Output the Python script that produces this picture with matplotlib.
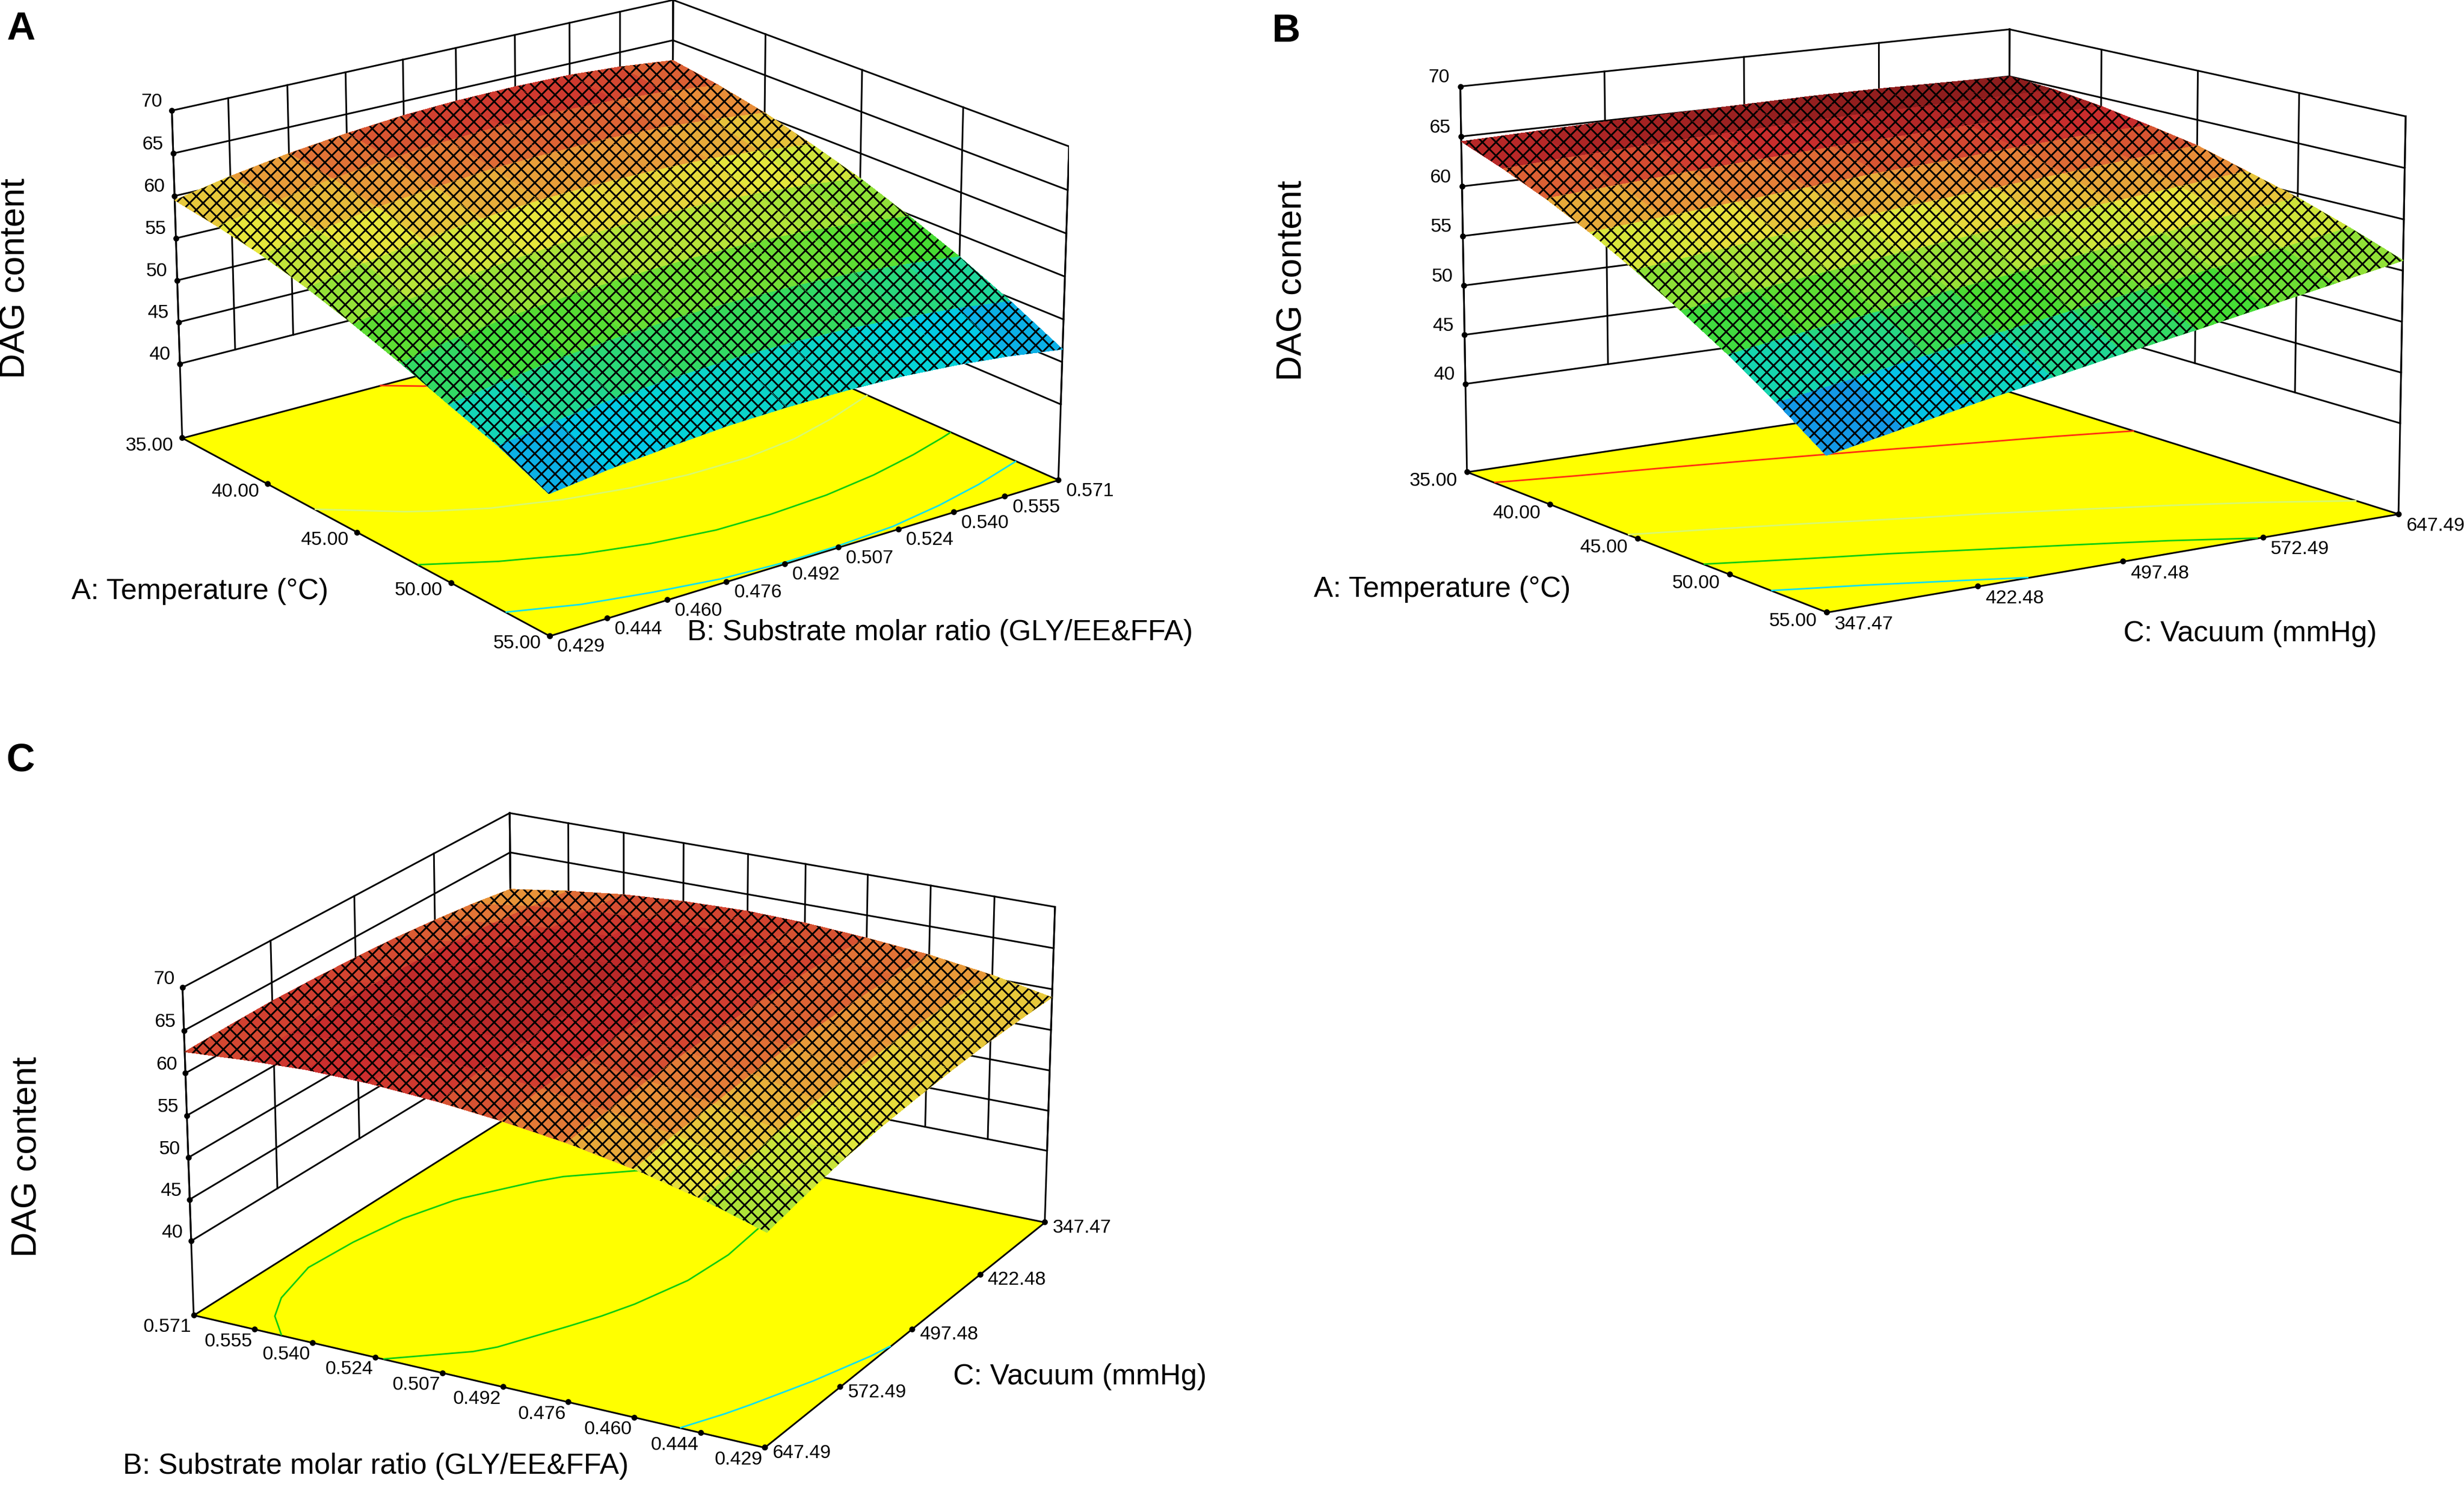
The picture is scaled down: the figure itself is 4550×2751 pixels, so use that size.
import numpy as np
import matplotlib
matplotlib.use("Agg")
import matplotlib.pyplot as plt
from matplotlib.colors import LinearSegmentedColormap, Normalize
from mpl_toolkits.mplot3d import proj3d
from mpl_toolkits.mplot3d.art3d import Poly3DCollection

plt.rcParams['font.family'] = ['Liberation Sans', 'DejaVu Sans']
plt.rcParams['hatch.linewidth'] = 0.75

W, H, DPI = 4550, 2751, 300

# ---------------- data ----------------
temp_ticks = [35.0, 40.0, 45.0, 50.0, 55.0]
temp_labels = ["35.00", "40.00", "45.00", "50.00", "55.00"]
ratio_ticks = [0.429, 0.444, 0.460, 0.476, 0.492, 0.507, 0.524, 0.540, 0.555, 0.571]
ratio_labels = ["0.429", "0.444", "0.460", "0.476", "0.492", "0.507", "0.524", "0.540", "0.555", "0.571"]
vac_ticks = [347.47, 422.48, 497.48, 572.49, 647.49]
vac_labels = ["347.47", "422.48", "497.48", "572.49", "647.49"]
dag_ticks = [40, 45, 50, 55, 60, 65, 70]
dag_labels = ["40", "45", "50", "55", "60", "65", "70"]
floor_z = 31.0

temp_grid = [35.0, 37.5, 40.0, 42.5, 45.0, 47.5, 50.0, 52.5, 55.0]
ratio_grid = [0.429, 0.444, 0.460, 0.476, 0.492, 0.507, 0.524, 0.540, 0.555, 0.571]
vac_grid = [347.47, 384.97, 422.48, 459.98, 497.48, 534.99, 572.49, 609.99, 647.49]

# Panel A: DAG content, rows = temperature, cols = substrate molar ratio
dag_A = [
    [59.5, 60.8, 61.9, 62.7, 63.3, 63.6, 63.7, 63.6, 63.2, 62.5],
    [58.8, 60.1, 61.2, 62.0, 62.5, 62.8, 62.9, 62.7, 62.3, 61.6],
    [57.9, 59.1, 60.2, 60.9, 61.5, 61.7, 61.8, 61.6, 61.1, 60.4],
    [56.6, 57.8, 58.8, 59.6, 60.1, 60.3, 60.3, 60.1, 59.6, 58.8],
    [55.0, 56.2, 57.2, 57.9, 58.4, 58.6, 58.6, 58.3, 57.8, 57.0],
    [53.2, 54.4, 55.3, 55.9, 56.3, 56.5, 56.5, 56.2, 55.6, 54.8],
    [51.2, 52.2, 53.1, 53.7, 54.1, 54.2, 54.1, 53.8, 53.2, 52.4],
    [49.3, 50.3, 51.0, 51.5, 51.8, 51.8, 51.6, 51.1, 50.5, 49.6],
    [46.8, 47.6, 48.2, 48.7, 48.9, 48.9, 48.7, 48.2, 47.5, 46.5],
]
# Panel B: rows = temperature, cols = vacuum
dag_B = [
    [64.5, 64.7, 64.9, 65.0, 65.1, 65.2, 65.2, 65.1, 65.0],
    [63.0, 63.4, 63.7, 64.0, 64.2, 64.4, 64.5, 64.6, 64.7],
    [61.3, 61.8, 62.3, 62.7, 63.1, 63.4, 63.7, 63.9, 64.1],
    [59.3, 59.9, 60.5, 61.1, 61.7, 62.1, 62.6, 63.0, 63.3],
    [57.0, 57.8, 58.6, 59.3, 60.0, 60.6, 61.2, 61.8, 62.4],
    [54.5, 55.5, 56.4, 57.3, 58.1, 58.9, 59.6, 60.3, 61.0],
    [51.8, 52.9, 53.9, 55.0, 55.9, 56.9, 57.8, 58.7, 59.6],
    [48.8, 50.0, 51.2, 52.4, 53.5, 54.6, 55.7, 56.8, 57.9],
    [45.5, 46.9, 48.3, 49.6, 50.9, 52.1, 53.4, 54.7, 56.0],
]
# Panel C: rows = substrate molar ratio, cols = vacuum
dag_C = [
    [59.0, 59.1, 59.1, 58.9, 58.6, 58.2, 57.6, 56.7, 55.6],
    [60.4, 60.6, 60.6, 60.5, 60.3, 59.9, 59.4, 58.7, 57.8],
    [61.5, 61.7, 61.9, 61.8, 61.7, 61.4, 60.9, 60.4, 59.6],
    [62.2, 62.6, 62.8, 62.8, 62.7, 62.5, 62.1, 61.6, 61.0],
    [62.7, 63.1, 63.4, 63.5, 63.5, 63.3, 63.0, 62.6, 62.0],
    [62.9, 63.3, 63.7, 63.9, 63.9, 63.8, 63.6, 63.3, 62.7],
    [62.7, 63.2, 63.7, 63.9, 64.0, 64.0, 63.9, 63.6, 63.2],
    [62.2, 62.8, 63.3, 63.7, 63.9, 63.9, 63.8, 63.6, 63.3],
    [61.4, 62.1, 62.7, 63.1, 63.4, 63.5, 63.5, 63.3, 63.0],
    [60.3, 61.1, 61.7, 62.2, 62.5, 62.7, 62.8, 62.7, 62.5],
]
levels_A = [49.0, 52.6, 56.5, 63.0]
levels_B = [49.2, 53.3, 57.5, 63.5]
levels_C = [58.36, 63.14]

# ---------------- style ----------------
cmap_values = [46.0, 49.5, 54.0, 59.0, 61.5, 63.5, 66.0]
cmap_colors = ['#285ae6', '#00d2e6', '#46dc32', '#e6e63c', '#e88838', '#cc2e2e', '#5e0f0f']
vmin, vmax = cmap_values[0], cmap_values[-1]
cmap = LinearSegmentedColormap.from_list(
    'de', [((v - vmin) / (vmax - vmin), c) for v, c in zip(cmap_values, cmap_colors)])
norm = Normalize(vmin, vmax)
contour_colors_4 = ['#10e0f0', '#10cc10', '#d8f870', '#ff3010']
contour_colors_2 = ['#10e0f0', '#10cc10']

fig = plt.figure(figsize=(W / DPI, H / DPI), dpi=DPI)
fig.patch.set_facecolor('white')

LW_BOX = 0.75
TICK_FS = 8.5
TITLE_FS = 12.8
ZTITLE_FS = 15.5

panels = [
    dict(xg=temp_grid, yg=ratio_grid, z=dag_A, xt=temp_ticks, xl=temp_labels,
         yt=ratio_ticks, yl=ratio_labels, levels=levels_A, lcolors=contour_colors_4,
         left=(35.0, 0.429), back=(35.0, 0.571), right=(55.0, 0.571), front=(55.0, 0.429),
         target=[(289, 198), (367, 805), (1012, 1180), (1922, 881), (2010, 267), (1240, 12)],
         p0=[26, -37, 0.4, 0.63, 1.06],
         zoff=(-18, -17), xoff=(-16, 14), yoff=(14, 20)),
    dict(xg=temp_grid, yg=vac_grid, z=dag_B, xt=temp_ticks, xl=temp_labels,
         yt=vac_ticks, yl=vac_labels, levels=levels_B, lcolors=contour_colors_4,
         left=(35.0, 347.47), back=(35.0, 647.49), right=(55.0, 647.49), front=(55.0, 347.47),
         target=[(2680, 155), (2730, 865), (3369, 1140), (4409, 944), (4467, 207), (3706, 68)],
         p0=[17, -33, 0.4, 0.64, 1.07],
         zoff=(-20, -17), xoff=(-18, 16), yoff=(14, 22)),
    dict(xg=ratio_grid, yg=vac_grid, z=dag_C, xt=ratio_ticks, xl=ratio_labels,
         yt=vac_ticks, yl=vac_labels, levels=levels_C, lcolors=contour_colors_2,
         left=(0.571, 647.49), back=(0.571, 347.47), right=(0.429, 347.47), front=(0.429, 647.49),
         target=[(301, 1819), (389, 2422), (1416, 2681), (1900, 2252), (1973, 1667), (946, 1515)],
         p0=[28, 118, 0.4, 0.59, 0.88],
         zoff=(-15, -16), xoff=(-4, 22), yoff=(14, 10)),
]


def configure(ax, p):
    elev, azim, invf, zasp, yasp = p
    ax.view_init(elev=elev, azim=azim)
    if invf < 0.02:
        ax.set_proj_type('ortho')
    else:
        ax.set_proj_type('persp', focal_length=1.0 / invf)
    ax.set_box_aspect((1.0, yasp, zasp))


def project(ax, pts):
    M = ax.get_proj()
    a = np.array(pts, float)
    px, py, _ = proj3d.proj_transform(a[:, 0], a[:, 1], a[:, 2], M)
    return np.column_stack([px, py])


def sim_fit(P, T):
    pm, tm = P.mean(0), T.mean(0)
    dp, dt = P - pm, T - tm
    s = (dp * dt).sum() / max((dp * dp).sum(), 1e-12)
    res = ((s * dp - dt) ** 2).sum()
    return s, pm, tm, res


def key_points(sp):
    F = floor_z
    (xl, yl), (xb, yb), (xr, yr), (xf, yf) = sp['left'], sp['back'], sp['right'], sp['front']
    return [(xl, yl, 70), (xl, yl, F), (xf, yf, F), (xr, yr, F), (xr, yr, 70), (xb, yb, 70)]


def fit_camera(ax, sp):
    pts = key_points(sp)
    T = np.array(sp['target'], float)
    T[:, 1] = -T[:, 1]
    p0 = sp['p0']
    bounds = [(5, 60), (p0[1] - 40, p0[1] + 40), (0.0, 1.0), (0.3, 1.2), (0.5, 1.6)]

    def cost(p):
        configure(ax, p)
        return sim_fit(project(ax, pts), T)[3]

    p = list(p0)
    c = cost(p)
    steps = [4.0, 4.0, 0.2, 0.08, 0.08]
    st = list(steps)
    for _ in range(200):
        improved = False
        for i in range(5):
            for d in (1, -1):
                q = list(p)
                q[i] = float(np.clip(q[i] + d * st[i], *bounds[i]))
                cq = cost(q)
                if cq < c - 1e-9:
                    p, c, improved = q, cq, True
        if not improved:
            st = [s / 2 for s in st]
            if st[0] < steps[0] / 128:
                break
    configure(ax, p)


axes = []
for sp in panels:
    ax = fig.add_axes([0.1, 0.1, 1500 / W, 1500 / H], projection='3d', computed_zorder=False)
    ax.set_axis_off()
    ax.set_facecolor('none')
    F = floor_z
    (xl, yl), (xb, yb), (xr, yr), (xf, yf) = sp['left'], sp['back'], sp['right'], sp['front']
    X, Y = np.meshgrid(sp['xg'], sp['yg'], indexing='ij')
    Z = np.array(sp['z'], float)

    # back walls with grid
    for z in dag_ticks:
        ax.plot([xl, xb], [yl, yb], [z, z], color='k', lw=LW_BOX, zorder=1)
        ax.plot([xb, xr], [yb, yr], [z, z], color='k', lw=LW_BOX, zorder=1)
    for y in sp['yt']:
        ax.plot([xl, xl], [y, y], [40, 70], color='k', lw=LW_BOX, zorder=1)
    for x in sp['xt']:
        ax.plot([x, x], [yb, yb], [40, 70], color='k', lw=LW_BOX, zorder=1)
    for (cx, cy) in (sp['left'], sp['back'], sp['right']):
        ax.plot([cx, cx], [cy, cy], [F, 70], color='k', lw=LW_BOX, zorder=1)

    # yellow floor with contours
    floor = Poly3DCollection([[(xl, yl, F), (xf, yf, F), (xr, yr, F), (xb, yb, F)]],
                             facecolor='#ffff00', edgecolor='k', linewidths=LW_BOX, zorder=2)
    ax.add_collection3d(floor)
    ax.contour(X, Y, Z, levels=sp['levels'], zdir='z', offset=F, colors=sp['lcolors'],
               linewidths=0.7, zorder=3)

    # response surface (mesh texture via hatch)
    surf = ax.plot_surface(X, Y, Z, cmap=cmap, norm=norm, linewidth=0, edgecolor='k',
                           antialiased=False, rstride=1, cstride=1, zorder=4)
    surf.set_hatch('xxxx')

    # tick dots
    ax.plot([xl] * len(dag_ticks), [yl] * len(dag_ticks), dag_ticks, 'o', ms=1.6,
            color='k', zorder=5)
    ax.plot(sp['xt'], [yl] * len(sp['xt']), [F] * len(sp['xt']), 'o', ms=1.6, color='k', zorder=5)
    ax.plot([xf] * len(sp['yt']), sp['yt'], [F] * len(sp['yt']), 'o', ms=1.6, color='k', zorder=5)

    ax.set_xlim(min(sp['xt']), max(sp['xt']))
    ax.set_ylim(min(sp['yt']), max(sp['yt']))
    ax.set_zlim(F, 70)
    fit_camera(ax, sp)
    axes.append(ax)

# position the axes so the boxes land where they are in the reference
fig.canvas.draw()
for ax, sp in zip(axes, panels):
    D = ax.transData.transform(project(ax, key_points(sp)))
    T = np.array(sp['target'], float)
    T[:, 1] = H - T[:, 1]
    bb = ax.get_position()
    c = np.array([(bb.x0 + bb.x1) / 2 * W, (bb.y0 + bb.y1) / 2 * H])
    size = bb.width * W
    s, dmean, tmean, _ = sim_fit(D, T)
    ns = size * s
    nc = tmean - s * (dmean - c)
    ax.set_position([(nc[0] - ns / 2) / W, (nc[1] - ns / 2) / H, ns / W, ns / H])
fig.canvas.draw()


def put(x, y, s, **kw):
    fig.text(x / W, 1 - y / H, s, **kw)


for ax, sp in zip(axes, panels):
    F = floor_z
    (xl, yl), (xf, yf) = sp['left'], sp['front']
    zp = ax.transData.transform(project(ax, [(xl, yl, z) for z in dag_ticks]))
    for (px, py), lab in zip(zp, dag_labels):
        put(px + sp['zoff'][0], H - py + sp['zoff'][1], lab, ha='right', va='center',
            fontsize=TICK_FS)
    xp = ax.transData.transform(project(ax, [(x, yl, F) for x in sp['xt']]))
    for (px, py), lab in zip(xp, sp['xl']):
        put(px + sp['xoff'][0], H - py + sp['xoff'][1], lab, ha='right', va='center',
            fontsize=TICK_FS)
    yp = ax.transData.transform(project(ax, [(xf, y, F) for y in sp['yt']]))
    for (px, py), lab in zip(yp, sp['yl']):
        put(px + sp['yoff'][0], H - py + sp['yoff'][1], lab, ha='left', va='center',
            fontsize=TICK_FS)

# axis titles and panel letters
put(132, 1092, "A: Temperature (°C)", ha='left', va='center', fontsize=TITLE_FS)
put(1269, 1168, "B: Substrate molar ratio (GLY/EE&FFA)", ha='left', va='center', fontsize=TITLE_FS)
put(29, 514, "DAG content", ha='center', va='center', rotation=90, fontsize=ZTITLE_FS)
put(2426, 1088, "A: Temperature (°C)", ha='left', va='center', fontsize=TITLE_FS)
put(3921, 1170, "C: Vacuum (mmHg)", ha='left', va='center', fontsize=TITLE_FS)
put(2387, 518, "DAG content", ha='center', va='center', rotation=90, fontsize=ZTITLE_FS)
put(227, 2707, "B: Substrate molar ratio (GLY/EE&FFA)", ha='left', va='center', fontsize=TITLE_FS)
put(1760, 2542, "C: Vacuum (mmHg)", ha='left', va='center', fontsize=TITLE_FS)
put(51, 2136, "DAG content", ha='center', va='center', rotation=90, fontsize=ZTITLE_FS)
put(12, 54, "A", ha='left', va='center', fontsize=17.5, fontweight='bold')
put(2348, 58, "B", ha='left', va='center', fontsize=17.5, fontweight='bold')
put(12, 1404, "C", ha='left', va='center', fontsize=17.5, fontweight='bold')

fig.savefig('out.png', dpi=DPI, facecolor='white')
